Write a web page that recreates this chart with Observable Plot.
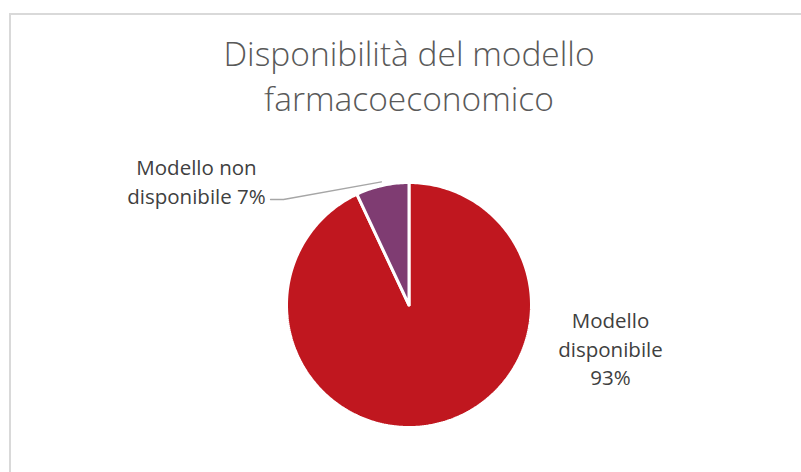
<!DOCTYPE html>
<html>
<head>
<meta charset="utf-8">
<script src="https://cdn.jsdelivr.net/npm/d3@7"></script>
<script src="https://cdn.jsdelivr.net/npm/@observablehq/plot@0.6"></script>
<style>
  html, body { margin: 0; padding: 0; background: #fff; }
  #wrap { position: relative; width: 801px; height: 472px; overflow: hidden; }
  #frame { position: absolute; left: 9px; top: 13px; width: 900px; height: 600px;
           border-left: 2px solid #d9d9d9; border-top: 2px solid #d9d9d9; box-sizing: border-box; }
  #chart { position: absolute; left: 0; top: 0; }
</style>
</head>
<body>
<div id="wrap"><div id="frame"></div><div id="chart"></div></div>
<script>
const title = "Disponibilità del modello\nfarmacoeconomico";
const categories = ["Modello disponibile", "Modello non disponibile"];
const values = [93, 7];
const colors = ["#C0171F", "#7F3C72"];
const labelText = ["Modello\ndisponibile\n93%", "Modello non\ndisponibile 7%"];

const W = 801, H = 472;
const cx = 408.5, cy = 304.5, R = 122.5;

// Build slices (start at 12 o'clock, clockwise) in unit coordinates
const total = d3.sum(values);
const polys = [];
let acc = 0;
const mids = [];
values.forEach((v, i) => {
  const a0 = acc / total * 2 * Math.PI;
  acc += v;
  const a1 = acc / total * 2 * Math.PI;
  mids.push((a0 + a1) / 2);
  polys.push({cat: categories[i], x: 0, y: 0});
  const n = Math.max(4, Math.ceil((a1 - a0) / (Math.PI / 180)));
  for (let j = 0; j <= n; j++) {
    const a = a0 + (a1 - a0) * j / n;
    polys.push({cat: categories[i], x: Math.sin(a), y: Math.cos(a)});
  }
  polys.push({cat: categories[i], x: 0, y: 0});
});

// Label placement (Excel best fit)
const labels = [
  {text: labelText[0], x: (610 - cx) / R, y: (cy - 347) / R},
  {text: labelText[1], x: (196 - cx) / R, y: (cy - 180) / R}
];
// leader line for the small slice
const m = mids[1];
const leader = [
  {x: (270 - cx) / R, y: (cy - 199) / R},
  {x: (283 - cx) / R, y: (cy - 199) / R},
  {x: Math.sin(m) * 1.03, y: Math.cos(m) * 1.03}
];

const plot = Plot.plot({
  width: W, height: H,
  margin: 0,
  x: {domain: [-cx / R, (W - cx) / R], range: [0, W], axis: null},
  y: {domain: [-(H - cy) / R, cy / R], range: [H, 0], axis: null},
  color: {domain: categories, range: colors},
  style: {fontFamily: "'Open Sans', sans-serif", background: "transparent"},
  marks: [
    Plot.line(polys, {x: "x", y: "y", z: "cat", fill: "cat", stroke: "white", strokeWidth: 3, strokeLinejoin: "miter"}),
    Plot.line(leader, {x: "x", y: "y", stroke: "#a6a6a6", strokeWidth: 1.3}),
    Plot.text(labels, {x: "x", y: "y", text: "text", fill: "#404040", fontSize: 20.5, lineHeight: 1.38, textAnchor: "middle"}),
    Plot.text([title], {x: [0], y: [(cy - 74) / R], text: d => d, fill: "#595959", fontSize: 33.5, fontWeight: 350, lineHeight: 1.33, textAnchor: "middle"})
  ]
});
document.getElementById("chart").appendChild(plot);
</script>
</body>
</html>
